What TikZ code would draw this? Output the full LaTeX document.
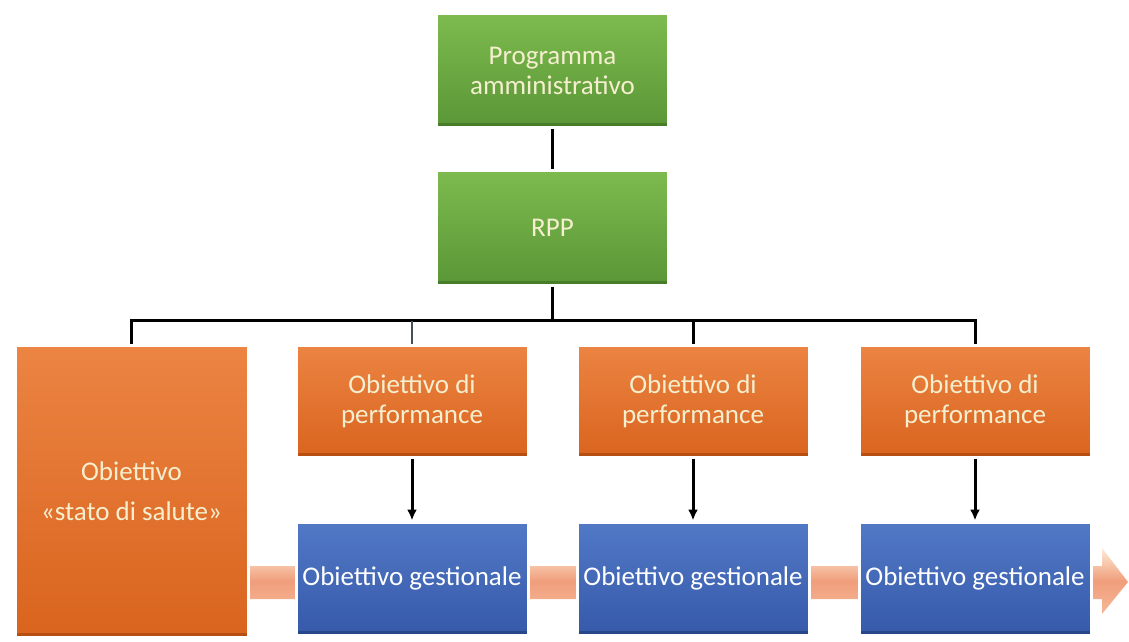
\documentclass[tikz,border=0pt]{standalone}
\usepackage{fontspec}
\setmainfont{Carlito}
\usetikzlibrary{arrows.meta,shadows,calc}
\definecolor{gtop}{HTML}{7DBB4F}
\definecolor{gbot}{HTML}{5A9636}
\definecolor{gedge}{HTML}{3F7324}
\definecolor{otop}{HTML}{EC8443}
\definecolor{obot}{HTML}{D9641E}
\definecolor{oedge}{HTML}{A9470F}
\definecolor{btop}{HTML}{5179C6}
\definecolor{bbot}{HTML}{3659A9}
\definecolor{bedge}{HTML}{22407E}
\definecolor{cream}{HTML}{F5EFCF}
\definecolor{peachA}{HTML}{FDEBD8}
\definecolor{peachB}{HTML}{F09E7B}
\definecolor{peachC}{HTML}{F5B798}
\tikzset{
  box/.style={draw=white, line width=3pt, minimum width=232pt, minimum height=113pt,
    align=center, inner sep=0pt, font=\fontsize{27}{30}\selectfont,
    drop shadow={opacity=0.25, shadow xshift=1.5pt, shadow yshift=-2pt}},
  edge/.style={path picture={\fill[#1, opacity=0.7]
      ([yshift=1.5pt]path picture bounding box.south west) rectangle
      ([yshift=4pt]path picture bounding box.south east);}},
  greenbox/.style={box, top color=gtop, bottom color=gbot, text=cream, edge=gedge},
  orangebox/.style={box, top color=otop, bottom color=obot, text=cream, edge=oedge},
  bluebox/.style={box, top color=btop, bottom color=bbot, text=white, edge=bedge},
  link/.style={line width=3pt, black},
  arr/.style={link, -{Latex[length=11pt,width=10pt]}}
}
\begin{document}
\begin{tikzpicture}[x=1pt,y=-1pt]
\useasboundingbox (0,0) rectangle (1129,642);
% background arrow
\path[top color=peachA, bottom color=peachC, middle color=peachB]
  (245,566) -- (1102,566) -- (1102,548) -- (1128,582) -- (1102,614) -- (1102,599) -- (245,599) -- cycle;
% nodes
\node[greenbox] (prog) at (552.5,70.5) {Programma\\amministrativo};
\node[greenbox, minimum height=115pt] (rpp) at (552.5,227.5) {RPP};
\node[orangebox, minimum width=233pt, minimum height=292pt, font=\fontsize{27}{40}\selectfont] (sal) at (131.5,491) {Obiettivo\\«stato di salute»};
\node[orangebox, minimum height=112pt] (p1) at (412,401) {Obiettivo di\\performance};
\node[orangebox, minimum height=112pt] (p2) at (693,401) {Obiettivo di\\performance};
\node[orangebox, minimum height=112pt] (p3) at (975,401) {Obiettivo di\\performance};
\node[bluebox] (g1) at (412,578.5) {Obiettivo gestionale};
\node[bluebox] (g2) at (693,578.5) {Obiettivo gestionale};
\node[bluebox] (g3) at (975,578.5) {Obiettivo gestionale};
\coordinate (bus) at ($(rpp.south)+(0,34)$);
% connectors
\draw[link] (prog.south) -- (rpp.north);
\draw[link] (rpp.south) -- (bus);
\draw[link] (sal.north) |- (bus) -| (p3.north);
\draw[line width=1.4pt, black!75!cyan] (p1.north) -- (p1.north |- bus);
\draw[link] (p2.north) -- (p2.north |- bus);
\draw[arr] (p1.south) -- (g1.north);
\draw[arr] (p2.south) -- (g2.north);
\draw[arr] (p3.south) -- (g3.north);
\end{tikzpicture}
\end{document}
